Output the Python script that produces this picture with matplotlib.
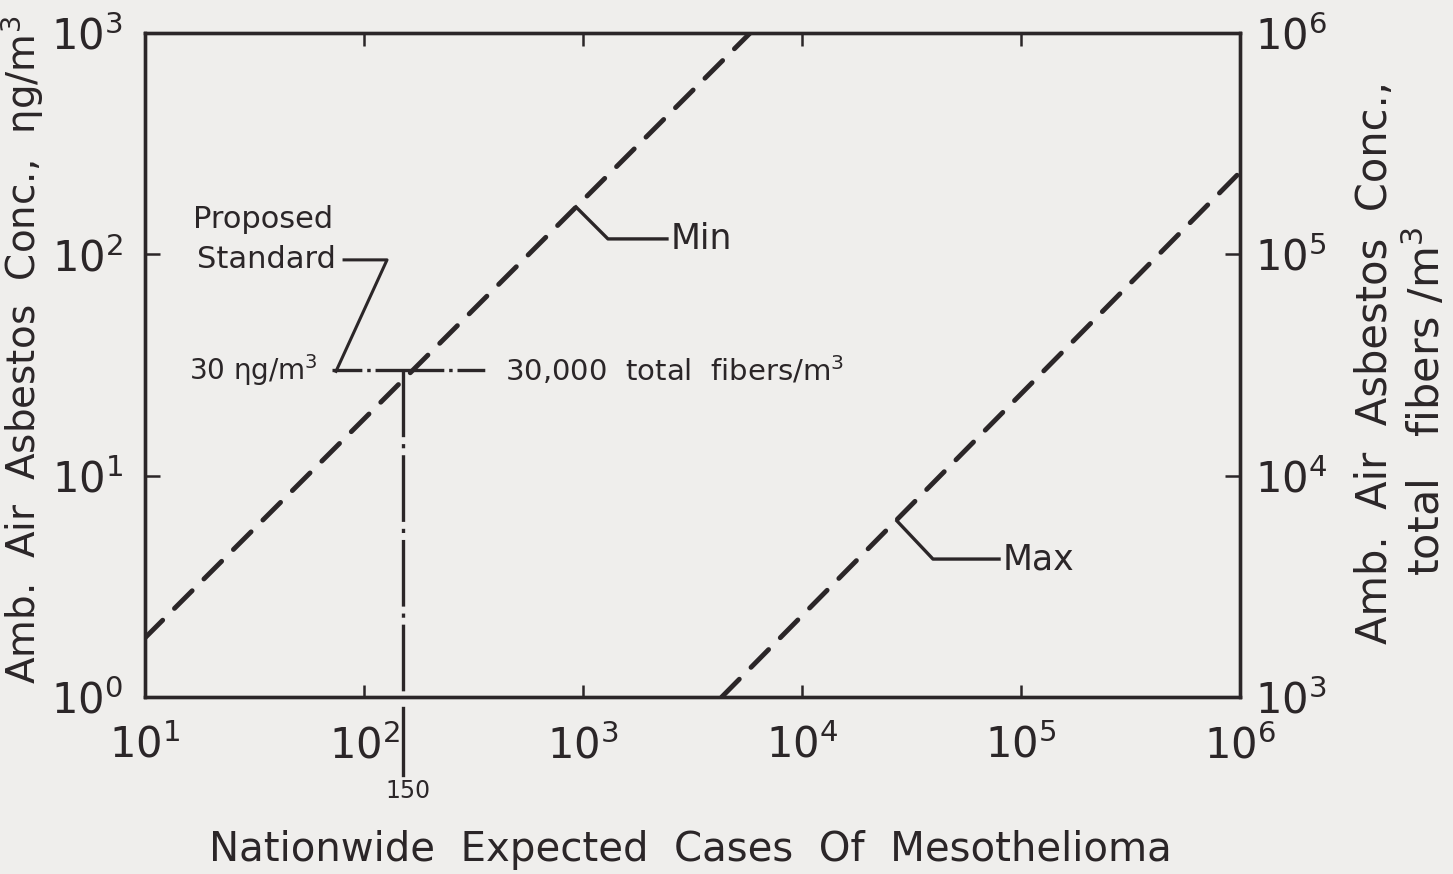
import matplotlib
matplotlib.use('Agg')
import matplotlib.pyplot as plt

plt.rcParams['font.family'] = ['DejaVu Sans']
plt.rcParams['mathtext.fontset'] = 'dejavusans'
plt.rcParams['lines.scale_dashes'] = False

# end points of the two estimate lines (straight on log-log axes)
min_x = [10, 5800]
min_y = [1.85, 1000]
max_x = [4300, 1e6]
max_y = [1, 235]

# proposed standard
std_cases = 150
std_conc = 30
std_conc_lo = 71.5   # left end of the horizontal marker
std_conc_hi = 357    # right end of the horizontal marker

x_ticks = [1e1, 1e2, 1e3, 1e4, 1e5, 1e6]
left_ticks = [1e0, 1e1, 1e2, 1e3]
right_ticks = [1e3, 1e4, 1e5, 1e6]


def pow_label(v):
    e = len(str(int(v))) - 1
    return r'$\mathregular{10^{%d}}$' % e


ink = '#2b2628'
bg = '#efeeec'

fig = plt.figure(figsize=(14.53, 8.74), dpi=100, facecolor=bg)
ax = fig.add_axes([145/1453, 1 - 697/874, 1095/1453, 664/874])
ax.set_facecolor(bg)
ax.set_xscale('log')
ax.set_yscale('log')
ax.set_xlim(10, 1e6)
ax.set_ylim(1, 1000)

# Min / Max lines
ax.plot(min_x, min_y, color=ink, lw=3.5, dashes=(18, 12), dash_capstyle='round')
ax.plot(max_x, max_y, color=ink, lw=3.5, dashes=(18, 12), dash_capstyle='round')

# proposed standard markers
ax.plot([std_conc_lo, std_conc_hi], [std_conc, std_conc], color=ink, lw=2.4,
        dashes=(21.5, 3.5, 2.5, 3.5, 49.5, 3.5, 2.5, 3.5, 20, 60))
ax.plot([std_cases, std_cases], [std_conc, 1], color=ink, lw=2.4,
        dashes=(48, 5, 3, 5))
ax.plot([std_cases, std_cases], [0.89, 0.445], color=ink, lw=2.4, clip_on=False)
ax.text(158, 0.375, '150', fontsize=17, color=ink, ha='center', va='center')

# Proposed Standard pointer
ax.plot([81.1, 127.4, 74.5], [94.4, 94.4, 29.6], color=ink, lw=2.2)
ax.text(16.6, 143, 'Proposed', fontsize=22, color=ink, ha='left', va='center')
ax.text(17.3, 94.4, 'Standard', fontsize=22, color=ink, ha='left', va='center')
ax.text(61.7, std_conc, r'30 ηg/m$^3$', fontsize=20, color=ink, ha='right', va='center')
ax.text(441, std_conc, r'30,000  total  fibers/m$^3$', fontsize=21, color=ink,
        ha='left', va='center')

# Min / Max pointers
ax.plot([929, 1300, 2418], [163.7, 117.4, 117.4], color=ink, lw=2.4)
ax.text(2500, 117.4, 'Min', fontsize=25, color=ink, ha='left', va='center')
ax.plot([27160, 39630, 79400], [6.24, 4.2, 4.2], color=ink, lw=2.4)
ax.text(82000, 4.2, 'Max', fontsize=25, color=ink, ha='left', va='center')

# axes styling
for s in ax.spines.values():
    s.set_color(ink)
    s.set_linewidth(2.4)
ax.set_xticks(x_ticks, labels=[pow_label(v) for v in x_ticks])
ax.set_yticks(left_ticks, labels=[pow_label(v) for v in left_ticks])
ax.minorticks_off()
ax.tick_params(axis='x', which='major', direction='in', length=9, width=1.8,
               colors=ink, labelsize=30, pad=20, top=True)
ax.tick_params(axis='y', which='major', direction='in', length=11, width=1.8,
               colors=ink, labelsize=30, pad=16, right=False)

ax2 = ax.twinx()
ax2.set_yscale('log')
ax2.set_ylim(1e3, 1e6)
ax2.set_yticks(right_ticks, labels=[pow_label(v) for v in right_ticks])
ax2.minorticks_off()
ax2.tick_params(axis='y', which='major', direction='in', length=11, width=1.8,
                colors=ink, labelsize=30, pad=11)
for s in ax2.spines.values():
    s.set_color(ink)
    s.set_linewidth(2.4)

# axis titles
fig.text(690/1453, 1 - 850/874, 'Nationwide  Expected  Cases  Of  Mesothelioma',
         fontsize=29, color=ink, ha='center', va='center')
fig.text(1387/1453, 1 - 362/874, 'Amb.  Air  Asbestos  Conc.,', fontsize=30,
         color=ink, rotation=90, rotation_mode='anchor', ha='center', va='baseline')
fig.text(1440/1453, 1 - 401/874, r'total   fibers /m$^3$', fontsize=31,
         color=ink, rotation=90, rotation_mode='anchor', ha='center', va='baseline')
fig.text(36/1453, 1 - 350/874, r'Amb.  Air  Asbestos  Conc.,  ηg/m$^3$', fontsize=28,
         color=ink, rotation=90, rotation_mode='anchor', ha='center', va='baseline')

fig.savefig('out.png', dpi=100, facecolor=bg)
